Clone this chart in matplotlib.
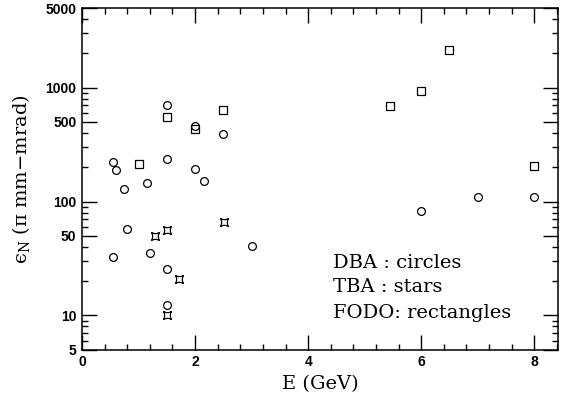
import numpy as np
import matplotlib
matplotlib.use("Agg")
import matplotlib.pyplot as plt
from matplotlib.path import Path
from matplotlib.ticker import FixedLocator, NullFormatter

plt.rcParams['mathtext.fontset'] = 'custom'
plt.rcParams['mathtext.rm'] = 'DejaVu Serif'
plt.rcParams['mathtext.it'] = 'DejaVu Serif:italic'

# DBA (circles)
dba_E = [0.54, 0.60, 0.74, 1.15, 1.50, 1.50, 2.00, 2.00, 2.16, 2.50,
         0.55, 0.80, 1.20, 1.50, 1.50, 3.00, 6.00, 7.00, 8.00]
dba_eps = [224, 188, 128, 146, 700, 238, 463, 194, 151, 392,
           32.4, 57.7, 35, 25.4, 12.3, 41, 82.6, 110, 110]

# TBA (stars)
tba_E = [1.30, 1.51, 2.51, 1.71, 1.51]
tba_eps = [50, 56.5, 66, 21, 10]

# FODO (rectangles)
fodo_E = [1.00, 1.50, 2.00, 2.50, 5.44, 6.00, 6.50, 8.00]
fodo_eps = [215, 556, 430, 635, 690, 934, 2128, 206]

ytick_vals = [5, 10, 50, 100, 500, 1000, 5000]
ytick_labels = ['5', '10', '50', '100', '500', '1000', '5000']
xtick_vals = [0, 2, 4, 6, 8]

# concave 4-point star marker
c = 0.45
star_verts = [(1, 1), (0, c), (-1, 1), (-c, 0), (-1, -1), (0, -c), (1, -1), (c, 0), (1, 1), (1, 1)]
star_codes = [Path.MOVETO, Path.CURVE3, Path.LINETO, Path.CURVE3, Path.LINETO,
              Path.CURVE3, Path.LINETO, Path.CURVE3, Path.LINETO, Path.CLOSEPOLY]
star = Path(star_verts, star_codes)

fig = plt.figure(figsize=(5.69, 4.03), dpi=100)
ax = fig.add_axes([0.1441, 0.1323, 0.9807 - 0.1441, 0.980 - 0.1323])

ax.plot(dba_E, dba_eps, 'o', ms=5.6, mfc='none', mec='black', mew=0.9)
ax.plot(tba_E, tba_eps, linestyle='none', marker=star, ms=5.6, mfc='none', mec='black', mew=0.9)
ax.plot(fodo_E, fodo_eps, 's', ms=5.2, mfc='none', mec='black', mew=0.9)

ax.set_yscale('log')
ax.set_xlim(0, 8.42)
ax.set_ylim(5, 5000)

ax.yaxis.set_major_locator(FixedLocator(ytick_vals))
ax.set_yticklabels(ytick_labels)
minor_y = [m * 10**d for d in range(0, 4) for m in range(2, 10)]
minor_y = [v for v in minor_y if 5 < v < 5000 and v not in ytick_vals]
ax.yaxis.set_minor_locator(FixedLocator(minor_y))
ax.yaxis.set_minor_formatter(NullFormatter())

ax.set_xticks(xtick_vals)
ax.xaxis.set_minor_locator(FixedLocator(np.arange(0, 8.5, 0.4)))

ax.tick_params(which='both', direction='in', top=True, right=True, width=1.0)
ax.tick_params(which='major', length=11, labelsize=10, pad=4)
ax.tick_params(which='minor', length=4.5)
for lab in ax.get_xticklabels() + ax.get_yticklabels():
    lab.set_fontfamily('Liberation Sans')
    lab.set_fontweight('bold')
for s in ax.spines.values():
    s.set_linewidth(1.1)

ax.set_xlabel('E (GeV)', fontfamily='DejaVu Serif', fontsize=14, labelpad=4)
ax.set_ylabel('ϵ$_\\mathrm{N}$ (π mm−mrad)', fontfamily='DejaVu Serif', fontsize=14, labelpad=10)

txt_kw = dict(fontfamily='DejaVu Serif', fontsize=14, va='center', ha='left')
ax.text(4.44, 29, 'DBA : circles', **txt_kw)
ax.text(4.44, 17.6, 'TBA : stars', **txt_kw)
ax.text(4.44, 10.6, 'FODO: rectangles', **txt_kw)

fig.savefig('out.png', dpi=100)
